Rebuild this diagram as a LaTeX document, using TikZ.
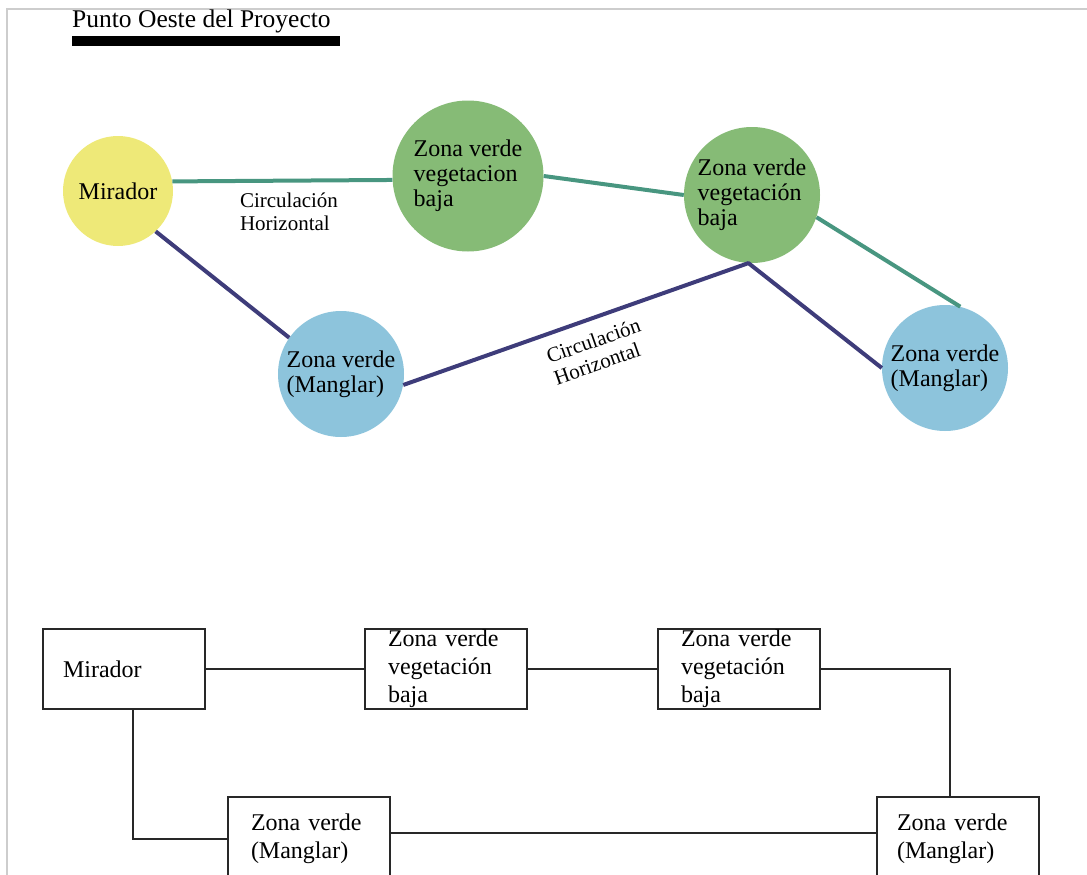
\documentclass[tikz,border=0pt]{standalone}
\usepackage{fontspec}
\setmainfont{Liberation Serif}
\usetikzlibrary{positioning}
\definecolor{MiradorYellow}{RGB}{238,233,120}
\definecolor{VegGreen}{RGB}{134,187,118}
\definecolor{MangleBlue}{RGB}{141,196,220}
\definecolor{PathTeal}{RGB}{72,150,128}
\definecolor{PathNavy}{RGB}{62,60,122}
\definecolor{FrameGray}{RGB}{205,205,205}
\definecolor{BoxBlack}{RGB}{40,40,40}
\tikzset{
  zona/.style={circle,inner sep=0pt,align=left,font=\fontsize{24}{25}\selectfont},
  mirnode/.style={zona,fill=MiradorYellow,minimum size=110pt},
  vegnode/.style={zona,fill=VegGreen},
  manglenode/.style={zona,fill=MangleBlue,minimum size=126pt},
  caja/.style={draw=BoxBlack,line width=2pt,align=left,minimum width=162pt,minimum height=80pt,inner ysep=0pt,font=\fontsize{24}{28}\selectfont},
  tealpath/.style={draw=PathTeal,line width=4pt},
  navypath/.style={draw=PathNavy,line width=4pt,line join=round},
  boxlink/.style={draw=BoxBlack,line width=2pt},
  circlabel/.style={font=\fontsize{21}{23}\selectfont,align=left,inner sep=2pt}
}

\begin{document}
\begin{tikzpicture}[x=1pt,y=-1pt]
\useasboundingbox (0,0) rectangle (1087,875);
\clip (0,0) rectangle (1087,875);
\draw[FrameGray,line width=1.5pt] (7,875) -- (7,9) -- (1087,9);

% title
\node[anchor=base west,inner sep=0pt,font=\fontsize{25.5}{27}\selectfont] (titulo) at (72,28) {Punto Oeste del Proyecto};
\fill (72,36) rectangle (340,46);

% bubble diagram
\node[mirnode] (mirador) at (118,191) {Mirador};
\node[vegnode,minimum size=151pt] (verde1) at (468,176) {Zona verde\\vegetacion\\baja};
\node[vegnode,minimum size=136pt] (verde2) at (752,195) {Zona verde\\vegetación\\baja};
\node[manglenode] (manglar1) at (341,374) {Zona verde\\(Manglar)};
\node[manglenode] (manglar2) at (945,368) {Zona verde\\(Manglar)};

\draw[tealpath] (mirador.10) -- node[circlabel,below=8pt,pos=0.53]{Circulación\\Horizontal} (verde1.183);
\draw[tealpath] (verde1.east) -- (verde2.180);
\draw[tealpath] (verde2.-19) -- (manglar2.76);
\draw[navypath] (mirador.-47) -- (manglar1.145);
\draw[navypath] (manglar1.-10) -- node[circlabel,sloped,below=10pt,pos=0.53]{Circulación\\Horizontal} (verde2.-93) -- (manglar2.180);

% block diagram
\node[caja,text width=122pt,inner xsep=20pt] (mirB) at (124,669) {Mirador};
\node[caja,text width=116pt,inner xsep=23pt,right=158pt of mirB] (verdeB1) {Zona verde\\vegetación\\baja};
\node[caja,text width=116pt,inner xsep=23pt,right=129pt of verdeB1] (verdeB2) {Zona verde\\vegetación\\baja};
\node[caja,text width=116pt,inner xsep=23pt,minimum height=84pt,below right=86pt and 21pt of mirB] (manglarB1) {Zona verde\\(Manglar)};
\node[caja,text width=122pt,inner xsep=20pt,minimum height=84pt,right=485pt of manglarB1] (manglarB2) {Zona verde\\(Manglar)};

\draw[boxlink] (mirB) -- (verdeB1);
\draw[boxlink] (verdeB1) -- (verdeB2);
\draw[boxlink] (verdeB2) -| ([xshift=-8pt]manglarB2.north);
\draw[boxlink] ([xshift=9pt]mirB.south) |- (manglarB1);
\draw[boxlink] ([yshift=6pt]manglarB1.east) -- ([yshift=6pt]manglarB2.west);
\end{tikzpicture}
\end{document}
